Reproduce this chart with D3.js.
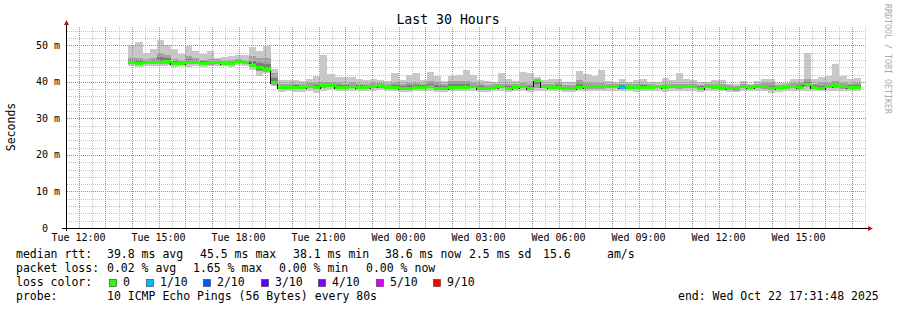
<!DOCTYPE html>
<html>
<head>
<meta charset="utf-8">
<script src="https://cdn.jsdelivr.net/npm/d3@7"></script>
<style>
body { margin: 0; background: #fff; }
svg { display: block; font-family: "DejaVu Sans Mono", monospace; }
.tick-label { font-size: 10px; fill: #000; white-space: pre; }
.legend { font-size: 11.5px; fill: #000; white-space: pre; }
</style>
</head>
<body>
<svg id="chart" width="897" height="310"></svg>
<script>
// time frame of the graph (UTC so the labels don't depend on the machine)
const endTime = Date.UTC(2025, 9, 22, 17, 31, 48);
const startTime = endTime - 30 * 3600 * 1000;
const firstColumn = Date.UTC(2025, 9, 21, 13, 52, 0);
const columnSeconds = 960;

// median rtt per 16 min column, ms
const medianMs = [
	45.3, 45.1, 45.3, 45.3, 45.4, 45.5, 45.1, 45.1, 45.3, 45.3,
	45.1, 45.2, 45.3, 45.1, 44.9, 45.5, 45.3, 44.6, 43.8, 43.3,
	39.7, 38.5, 38.5, 38.5, 38.5, 38.6, 38.5, 38.9, 38.9, 38.4,
	38.5, 38.7, 38.5, 38.5, 38.7, 38.9, 38.5, 38.5, 38.3, 38.3,
	38.5, 38.5, 38.7, 38.3, 38.3, 38.5, 38.5, 38.5, 38.7, 38.3,
	38.1, 38.4, 38.7, 38.3, 38.5, 38.7, 38.3, 40.3, 38.7, 38.5,
	38.5, 38.1, 38.2, 38.5, 38.6, 38.6, 38.6, 38.6, 38.6, 38.5,
	38.4, 38.4, 38.5, 38.5, 38.6, 38.4, 38.6, 38.6, 38.7, 38.8,
	38.3, 38.6, 38.5, 38.5, 38.2, 38.1, 38.6, 38.4, 38.6, 38.6,
	38.1, 38.4, 38.5, 38.6, 38.5, 39.2, 38.5, 38.3, 38.6, 38.9,
	38.6, 38.5, 38.5
];

// smoke: slowest ping
const maxMs = [
	50.1, 51.0, 48.0, 49.1, 51.5, 50.0, 48.9, 47.6, 49.8, 48.5,
	47.6, 48.3, 46.5, 46.9, 47.1, 47.4, 47.4, 49.6, 48.5, 49.8,
	43.6, 40.5, 40.5, 40.5, 40.3, 40.9, 41.6, 47.4, 42.1, 41.4,
	41.4, 41.4, 40.9, 40.5, 40.9, 40.5, 40.3, 42.3, 40.5, 41.9,
	42.3, 40.5, 42.7, 41.6, 40.3, 41.5, 41.9, 43.3, 41.9, 40.5,
	40.1, 40.0, 42.3, 40.9, 40.3, 42.8, 42.4, 41.4, 40.5, 40.9,
	40.9, 40.0, 40.0, 43.0, 42.1, 41.6, 43.3, 40.3, 40.0, 40.9,
	40.0, 40.5, 40.9, 40.0, 40.0, 41.0, 40.5, 42.5, 40.9, 40.5,
	40.0, 40.0, 40.5, 40.5, 39.4, 39.4, 40.3, 39.4, 40.3, 40.9,
	40.9, 39.8, 39.8, 40.9, 40.9, 48.0, 40.7, 41.4, 41.6, 44.9,
	41.6, 40.9, 41.1
];

// smoke: upper inner ping
const upperMs = [
	46.6, 46.6, 46.3, 46.6, 48.0, 47.3, 46.3, 46.0, 47.0, 46.6,
	46.1, 46.3, 46.2, 46.0, 45.9, 46.3, 46.0, 47.0, 46.6, 46.6,
	42.3, 39.4, 39.3, 39.5, 39.3, 39.6, 39.8, 40.0, 39.9, 39.6,
	39.5, 39.6, 39.5, 39.4, 39.6, 39.8, 39.3, 39.6, 39.4, 39.7,
	39.8, 39.5, 40.1, 39.9, 39.4, 40.1, 40.3, 40.3, 39.8, 39.4,
	39.2, 39.3, 39.5, 39.4, 39.3, 39.6, 39.5, 40.1, 39.5, 39.4,
	39.6, 39.2, 39.2, 40.5, 39.7, 39.6, 39.8, 39.4, 39.3, 39.5,
	39.3, 39.4, 39.5, 39.3, 39.2, 39.4, 39.4, 39.4, 39.5, 39.5,
	39.2, 39.3, 39.4, 39.4, 39.0, 38.9, 39.4, 39.0, 39.4, 39.8,
	39.6, 39.2, 39.3, 39.6, 39.6, 40.7, 39.5, 39.6, 39.8, 40.1,
	39.7, 39.5, 39.6
];

// smoke: lower inner ping
const lowerMs = [
	44.9, 44.7, 44.9, 44.8, 44.9, 45.0, 44.6, 44.7, 44.8, 44.8,
	44.6, 44.7, 44.9, 44.6, 44.5, 45.1, 44.8, 44.0, 42.9, 42.8,
	39.2, 38.1, 38.0, 38.1, 38.0, 38.2, 38.0, 38.4, 38.5, 38.0,
	38.1, 38.3, 38.1, 38.1, 38.2, 38.4, 38.1, 38.1, 37.9, 37.9,
	38.0, 38.1, 38.2, 37.9, 37.9, 38.0, 38.1, 38.1, 38.2, 37.9,
	37.7, 38.0, 38.2, 37.8, 38.0, 38.2, 37.8, 38.4, 38.2, 38.1,
	38.0, 37.7, 37.8, 38.0, 38.1, 38.1, 38.1, 38.2, 38.2, 38.0,
	38.0, 37.9, 38.0, 38.1, 38.2, 38.0, 38.2, 38.1, 38.2, 38.3,
	37.9, 38.2, 38.0, 38.1, 37.8, 37.6, 38.2, 38.0, 38.2, 38.1,
	37.7, 38.0, 38.1, 38.2, 38.0, 38.5, 38.1, 37.9, 38.2, 38.3,
	38.1, 38.1, 38.1
];

// smoke: fastest ping
const minMs = [
	44.2, 44.1, 44.3, 44.2, 44.2, 44.3, 44.0, 44.2, 44.1, 44.3,
	44.1, 44.2, 44.4, 44.2, 44.0, 44.6, 44.3, 43.2, 41.7, 42.3,
	38.9, 37.3, 37.4, 37.3, 37.3, 37.5, 37.0, 37.6, 37.7, 37.5,
	37.4, 37.6, 37.6, 37.5, 37.6, 37.7, 37.5, 37.4, 37.2, 37.3,
	37.4, 37.5, 37.5, 37.3, 37.2, 37.4, 37.5, 37.4, 37.5, 37.3,
	37.2, 37.4, 37.4, 37.2, 37.4, 37.5, 37.3, 37.6, 37.5, 37.4,
	37.4, 37.3, 37.3, 37.4, 37.5, 37.5, 37.4, 37.6, 37.6, 37.4,
	37.4, 37.3, 37.4, 37.5, 37.5, 37.3, 37.5, 37.4, 37.5, 37.6,
	37.3, 37.6, 37.4, 37.5, 37.3, 37.1, 37.6, 37.5, 37.5, 37.4,
	37.0, 37.3, 37.5, 37.6, 37.5, 37.4, 37.5, 37.4, 37.5, 37.6,
	37.5, 37.4, 37.4
];

// lost pings out of 10 per column
const lossTenths = [
	0, 0, 0, 0, 0, 0, 0, 0, 0, 0,
	0, 0, 0, 0, 0, 0, 0, 0, 0, 0,
	0, 0, 0, 0, 0, 0, 0, 0, 0, 0,
	0, 0, 0, 0, 0, 0, 0, 0, 0, 0,
	0, 0, 0, 0, 0, 0, 0, 0, 0, 0,
	0, 0, 0, 0, 0, 0, 0, 0, 0, 0,
	0, 0, 0, 0, 0, 0, 0, 0, 0, 1,
	0, 0, 0, 0, 0, 0, 0, 0, 0, 0,
	0, 0, 0, 0, 0, 0, 0, 0, 0, 0,
	0, 0, 0, 0, 0, 0, 0, 0, 0, 0,
	0, 0, 0
];

const yTicks = [0, 10, 20, 30, 40, 50];
const lossKeys = [0, 1, 2, 3, 4, 5, 9];
const lossLabels = ['0', '1/10', '2/10', '3/10', '4/10', '5/10', '9/10'];
const lossColors = {0: '#26ff00', 1: '#00b8ff', 2: '#0059ff', 3: '#5e00ff', 4: '#7e00ff', 5: '#dd00ff', 9: '#ff0000'};

const svg = d3.select('#chart');
const plotLeft = 66, plotRight = 866, plotTop = 27, plotBottom = 228;

const x = d3.scaleUtc()
	.domain([new Date(startTime), new Date(endTime)])
	.range([plotLeft, plotRight]);

const y = d3.scaleLinear()
	.domain([0, 55])
	.range([plotBottom, plotTop]);

const cols = medianMs.map((m, i) => ({
	t0: new Date(firstColumn + i * columnSeconds * 1000),
	t1: new Date(firstColumn + (i + 1) * columnSeconds * 1000),
	med: m, max: maxMs[i], hi: upperMs[i], lo: lowerMs[i], min: minMs[i], loss: lossTenths[i]
}));

// smoke
const smoke = svg.append('g').attr('shape-rendering', 'crispEdges');
const band = (lo, hi, color) => smoke.append('g')
	.selectAll('rect')
	.data(cols)
	.enter()
	.append('rect')
	.attr('x', d => x(d.t0))
	.attr('width', d => x(d.t1) - x(d.t0))
	.attr('y', d => y(hi(d)))
	.attr('height', d => y(lo(d)) - y(hi(d)))
	.attr('fill', color);

band(d => d.min, d => d.max, '#c8c8c8');
band(d => d.lo, d => d.hi, '#a2a2a2');
band(d => (d.lo + d.med) / 2, d => (d.hi + d.med) / 2, '#7c7c7c');

// grid, dotted like rrdtool: every other pixel is a 1x1 square
const t0 = new Date(startTime), t1 = new Date(endTime);
const majorX = d3.utcHour.range(t0, t1);
const minorX = d3.utcMinute.every(30).range(t0, t1).filter(t => t.getUTCMinutes() !== 0);
const minorY = d3.range(2, 56, 2).filter(v => v % 10 !== 0);
const majorY = yTicks.filter(v => v > 0);

function dotsV(px) {
	let s = '';
	for (let py = plotTop; py < plotBottom; py += 2) s += `M${px},${py}h1v1h-1z`;
	return s;
}
function dotsH(py) {
	let s = '';
	for (let px = plotLeft + 1; px < plotRight; px += 2) s += `M${px},${py}h1v1h-1z`;
	return s;
}

const grid = svg.append('g').attr('shape-rendering', 'crispEdges');
const drawGrid = (vData, hData, color) => {
	grid.append('path')
		.attr('fill', color)
		.attr('d', vData.map(d => dotsV(Math.round(x(d)))).join('') + hData.map(d => dotsH(Math.round(y(d)))).join(''));
};
drawGrid(minorX, minorY, '#c4c4c4');
drawGrid(majorX, majorY, '#ee6a6a');

// median line, black step then loss colour on top
const last = cols[cols.length - 1];
const stepPoints = cols.map(d => [d.t0, d.med]).concat([[last.t1, last.med]]);
svg.append('path')
	.datum(stepPoints)
	.attr('fill', 'none')
	.attr('stroke', '#111')
	.attr('stroke-width', 1)
	.attr('shape-rendering', 'crispEdges')
	.attr('d', d3.line().curve(d3.curveStepAfter).x(d => x(d[0])).y(d => y(d[1]) + 1));

svg.append('g')
	.attr('shape-rendering', 'crispEdges')
	.selectAll('rect')
	.data(cols)
	.enter()
	.append('rect')
	.attr('x', d => x(d.t0))
	.attr('width', d => x(d.t1) - x(d.t0))
	.attr('y', d => y(d.med) - 1.5)
	.attr('height', 3)
	.attr('fill', d => lossColors[d.loss]);

// axes
svg.append('path')
	.attr('d', `M${plotLeft - 4},${plotBottom + 0.5}H${plotRight + 3}`)
	.attr('stroke', '#000');
svg.append('path')
	.attr('d', `M${plotLeft + 0.5},${plotBottom + 3}V${plotTop - 3}`)
	.attr('stroke', '#000');
svg.append('path')
	.attr('d', `M${plotLeft - 2},${plotTop - 2}L${plotLeft + 3},${plotTop - 2}L${plotLeft + 0.5},${plotTop - 7}Z`)
	.attr('fill', '#9b1c1c');
svg.append('path')
	.attr('d', `M${plotRight + 2},${plotBottom - 2}L${plotRight + 2},${plotBottom + 3}L${plotRight + 7},${plotBottom + 0.5}Z`)
	.attr('fill', '#9b1c1c');

// y labels
svg.append('g')
	.selectAll('text')
	.data(yTicks)
	.enter()
	.append('text')
	.attr('class', 'tick-label')
	.attr('x', 60)
	.attr('y', d => y(d) + 3.5)
	.attr('text-anchor', 'end')
	.text(d => d === 0 ? '0  ' : d + ' m');

// x labels
svg.append('g')
	.selectAll('text')
	.data(x.ticks(d3.utcHour.every(3)))
	.enter()
	.append('text')
	.attr('class', 'tick-label')
	.attr('x', d => x(d))
	.attr('y', 241)
	.attr('text-anchor', 'middle')
	.text(d3.utcFormat('%a %H:%M'));

svg.append('text')
	.attr('x', 448)
	.attr('y', 24)
	.attr('text-anchor', 'middle')
	.style('font-size', '13.2px')
	.text('Last 30 Hours');

svg.append('text')
	.attr('transform', 'translate(15,127) rotate(-90)')
	.attr('text-anchor', 'middle')
	.style('font-size', '11.5px')
	.text('Seconds');

svg.append('text')
	.attr('transform', 'translate(885,4) rotate(90)')
	.style('font-size', '8.3px')
	.attr('fill', '#aaa')
	.text('RRDTOOL / TOBI OETIKER');

// legend
const legendRows = [
	[[16, 'median rtt:'], [107, '39.8 ms avg'], [200, '45.5 ms max'], [293, '38.1 ms min'], [385, '38.6 ms now'], [469, '2.5 ms sd'], [543, '15.6'], [607, 'am/s']],
	[[16, 'packet loss:'], [107, '0.02 % avg'], [193, '1.65 % max'], [279, '0.00 % min'], [366, '0.00 % now']],
	[[16, 'loss color:']],
	[[16, 'probe:'], [107, '10 ICMP Echo Pings (56 Bytes) every 80s'], [678, 'end: Wed Oct 22 17:31:48 2025']]
];

legendRows.forEach((row, r) => {
	svg.append('g')
		.selectAll('text')
		.data(row)
		.enter()
		.append('text')
		.attr('class', 'legend')
		.attr('x', d => d[0])
		.attr('y', 258 + r * 14)
		.text(d => d[1]);
});

const boxX = [109, 146, 203, 261, 318, 376, 433];
const keys = svg.append('g').selectAll('g').data(lossKeys).enter().append('g');
keys.append('rect')
	.attr('x', (d, i) => boxX[i] + 0.5)
	.attr('y', 279.5)
	.attr('width', 7)
	.attr('height', 7)
	.attr('fill', d => lossColors[d])
	.attr('stroke', '#333')
	.attr('stroke-width', 0.6);
keys.append('text')
	.attr('class', 'legend')
	.attr('x', (d, i) => boxX[i] + 14)
	.attr('y', 286)
	.text((d, i) => lossLabels[i]);
</script>
</body>
</html>
